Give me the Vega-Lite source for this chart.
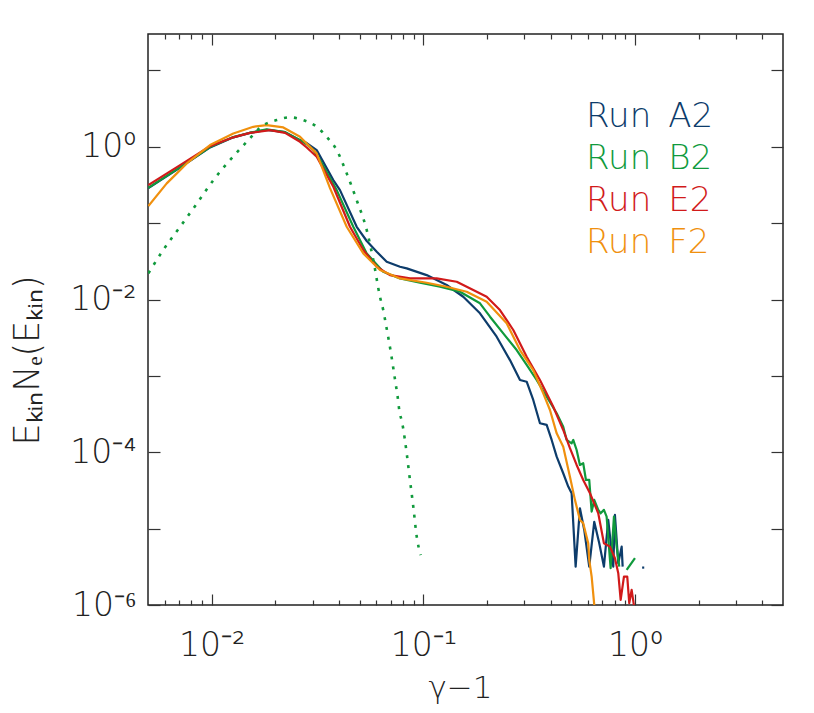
{
  "$schema": "https://vega.github.io/schema/vega-lite/v6.json",
  "width": 635,
  "height": 571,
  "autosize": {"type": "none"},
  "padding": {"left": 148, "top": 34, "right": 31, "bottom": 108},
  "background": "white",
  "config": {
    "view": {"stroke": "#222", "strokeWidth": 1.5},
    "font": "DejaVu Sans",
    "axis": {"domain": false, "grid": false, "tickColor": "#333", "tickWidth": 1.2, "labelFont": "DejaVu Sans", "labelColor": "#222", "labelFontWeight": 200, "titleFont": "DejaVu Sans", "titleColor": "#222", "titleFontWeight": 200, "labelOverlap": false, "labelFlush": false}
  },
  "datasets": {
    "runs": [
      {"run": "Run\u2002A2", "seg": "A2a", "x": 0.00502, "y": 0.288},
      {"run": "Run\u2002A2", "seg": "A2a", "x": 0.00709, "y": 0.534},
      {"run": "Run\u2002A2", "seg": "A2a", "x": 0.00982, "y": 0.982},
      {"run": "Run\u2002A2", "seg": "A2a", "x": 0.01265, "y": 1.33},
      {"run": "Run\u2002A2", "seg": "A2a", "x": 0.01517, "y": 1.52},
      {"run": "Run\u2002A2", "seg": "A2a", "x": 0.01819, "y": 1.669},
      {"run": "Run\u2002A2", "seg": "A2a", "x": 0.0222, "y": 1.557},
      {"run": "Run\u2002A2", "seg": "A2a", "x": 0.02613, "y": 1.224},
      {"run": "Run\u2002A2", "seg": "A2a", "x": 0.02811, "y": 1.12},
      {"run": "Run\u2002A2", "seg": "A2a", "x": 0.03133, "y": 0.905},
      {"run": "Run\u2002A2", "seg": "A2a", "x": 0.03754, "y": 0.3665},
      {"run": "Run\u2002A2", "seg": "A2a", "x": 0.04036, "y": 0.2711},
      {"run": "Run\u2002A2", "seg": "A2a", "x": 0.04841, "y": 0.0897},
      {"run": "Run\u2002A2", "seg": "A2a", "x": 0.054, "y": 0.0584},
      {"run": "Run\u2002A2", "seg": "A2a", "x": 0.0602, "y": 0.0422},
      {"run": "Run\u2002A2", "seg": "A2a", "x": 0.06708, "y": 0.0313},
      {"run": "Run\u2002A2", "seg": "A2a", "x": 0.07752, "y": 0.0269},
      {"run": "Run\u2002A2", "seg": "A2a", "x": 0.08341, "y": 0.0256},
      {"run": "Run\u2002A2", "seg": "A2a", "x": 0.1036, "y": 0.0209},
      {"run": "Run\u2002A2", "seg": "A2a", "x": 0.1288, "y": 0.0155},
      {"run": "Run\u2002A2", "seg": "A2a", "x": 0.1543, "y": 0.01088},
      {"run": "Run\u2002A2", "seg": "A2a", "x": 0.1851, "y": 0.0066},
      {"run": "Run\u2002A2", "seg": "A2a", "x": 0.2219, "y": 0.00326},
      {"run": "Run\u2002A2", "seg": "A2a", "x": 0.2565, "y": 0.00161},
      {"run": "Run\u2002A2", "seg": "A2a", "x": 0.286, "y": 0.000884},
      {"run": "Run\u2002A2", "seg": "A2a", "x": 0.3076, "y": 0.000839},
      {"run": "Run\u2002A2", "seg": "A2a", "x": 0.3304, "y": 0.000484},
      {"run": "Run\u2002A2", "seg": "A2a", "x": 0.3554, "y": 0.00024},
      {"run": "Run\u2002A2", "seg": "A2a", "x": 0.3823, "y": 0.000228},
      {"run": "Run\u2002A2", "seg": "A2a", "x": 0.4037, "y": 0.000145},
      {"run": "Run\u2002A2", "seg": "A2a", "x": 0.4263, "y": 0.0000876},
      {"run": "Run\u2002A2", "seg": "A2a", "x": 0.4578, "y": 0.0000531},
      {"run": "Run\u2002A2", "seg": "A2a", "x": 0.4835, "y": 0.0000355},
      {"run": "Run\u2002A2", "seg": "A2a", "x": 0.5016, "y": 0.0000291},
      {"run": "Run\u2002A2", "seg": "A2a", "x": 0.524, "y": 0.00000318},
      {"run": "Run\u2002A2", "seg": "A2a", "x": 0.549, "y": 0.0000185},
      {"run": "Run\u2002A2", "seg": "A2a", "x": 0.5754, "y": 0.00000962},
      {"run": "Run\u2002A2", "seg": "A2a", "x": 0.6075, "y": 0.00000318},
      {"run": "Run\u2002A2", "seg": "A2a", "x": 0.6415, "y": 0.0000123},
      {"run": "Run\u2002A2", "seg": "A2a", "x": 0.6774, "y": 0.00000644},
      {"run": "Run\u2002A2", "seg": "A2a", "x": 0.7128, "y": 0.00000318},
      {"run": "Run\u2002A2", "seg": "A2a", "x": 0.747, "y": 0.000013},
      {"run": "Run\u2002A2", "seg": "A2a", "x": 0.7889, "y": 0.00000318},
      {"run": "Run\u2002A2", "seg": "A2a", "x": 0.8035, "y": 0.0000151},
      {"run": "Run\u2002A2", "seg": "A2a", "x": 0.8331, "y": 0.00000353},
      {"run": "Run\u2002A2", "seg": "A2a", "x": 0.8644, "y": 0.00000581},
      {"run": "Run\u2002A2", "seg": "A2a", "x": 0.8738, "y": 0.00000318},
      {"run": "Run\u2002A2", "seg": "A2b", "x": 1.08, "y": 0.00000309},
      {"run": "Run\u2002A2", "seg": "A2b", "x": 1.105, "y": 0.00000309},

      {"run": "Run\u2002B2", "seg": "B2a", "x": 0.00502, "y": 0.2906},
      {"run": "Run\u2002B2", "seg": "B2a", "x": 0.00709, "y": 0.542},
      {"run": "Run\u2002B2", "seg": "B2a", "x": 0.00982, "y": 0.991},
      {"run": "Run\u2002B2", "seg": "B2a", "x": 0.01265, "y": 1.34},
      {"run": "Run\u2002B2", "seg": "B2a", "x": 0.01517, "y": 1.53},
      {"run": "Run\u2002B2", "seg": "B2a", "x": 0.01819, "y": 1.69},
      {"run": "Run\u2002B2", "seg": "B2a", "x": 0.0222, "y": 1.557},
      {"run": "Run\u2002B2", "seg": "B2a", "x": 0.02613, "y": 1.224},
      {"run": "Run\u2002B2", "seg": "B2a", "x": 0.02811, "y": 1.08},
      {"run": "Run\u2002B2", "seg": "B2a", "x": 0.0302, "y": 0.905},
      {"run": "Run\u2002B2", "seg": "B2a", "x": 0.03248, "y": 0.67},
      {"run": "Run\u2002B2", "seg": "B2a", "x": 0.03896, "y": 0.2711},
      {"run": "Run\u2002B2", "seg": "B2a", "x": 0.04665, "y": 0.0897},
      {"run": "Run\u2002B2", "seg": "B2a", "x": 0.054, "y": 0.0402},
      {"run": "Run\u2002B2", "seg": "B2a", "x": 0.0646, "y": 0.0231},
      {"run": "Run\u2002B2", "seg": "B2a", "x": 0.07752, "y": 0.0189},
      {"run": "Run\u2002B2", "seg": "B2a", "x": 0.09636, "y": 0.0166},
      {"run": "Run\u2002B2", "seg": "B2a", "x": 0.1198, "y": 0.0147},
      {"run": "Run\u2002B2", "seg": "B2a", "x": 0.1489, "y": 0.01265},
      {"run": "Run\u2002B2", "seg": "B2a", "x": 0.1851, "y": 0.00892},
      {"run": "Run\u2002B2", "seg": "B2a", "x": 0.2064, "y": 0.00596},
      {"run": "Run\u2002B2", "seg": "B2a", "x": 0.2384, "y": 0.00361},
      {"run": "Run\u2002B2", "seg": "B2a", "x": 0.2759, "y": 0.00218},
      {"run": "Run\u2002B2", "seg": "B2a", "x": 0.3076, "y": 0.00139},
      {"run": "Run\u2002B2", "seg": "B2a", "x": 0.3428, "y": 0.000884},
      {"run": "Run\u2002B2", "seg": "B2a", "x": 0.3823, "y": 0.000534},
      {"run": "Run\u2002B2", "seg": "B2a", "x": 0.4263, "y": 0.000324},
      {"run": "Run\u2002B2", "seg": "B2a", "x": 0.4578, "y": 0.000216},
      {"run": "Run\u2002B2", "seg": "B2a", "x": 0.4751, "y": 0.000145},
      {"run": "Run\u2002B2", "seg": "B2a", "x": 0.5016, "y": 0.000131},
      {"run": "Run\u2002B2", "seg": "B2a", "x": 0.5105, "y": 0.000145},
      {"run": "Run\u2002B2", "seg": "B2a", "x": 0.5297, "y": 0.000107},
      {"run": "Run\u2002B2", "seg": "B2a", "x": 0.549, "y": 0.0000682},
      {"run": "Run\u2002B2", "seg": "B2a", "x": 0.569, "y": 0.0000718},
      {"run": "Run\u2002B2", "seg": "B2a", "x": 0.5861, "y": 0.0000434},
      {"run": "Run\u2002B2", "seg": "B2a", "x": 0.6075, "y": 0.0000434},
      {"run": "Run\u2002B2", "seg": "B2a", "x": 0.6237, "y": 0.0000167},
      {"run": "Run\u2002B2", "seg": "B2a", "x": 0.6415, "y": 0.0000238},
      {"run": "Run\u2002B2", "seg": "B2a", "x": 0.6701, "y": 0.0000176},
      {"run": "Run\u2002B2", "seg": "B2a", "x": 0.6877, "y": 0.0000159},
      {"run": "Run\u2002B2", "seg": "B2a", "x": 0.7128, "y": 0.0000176},
      {"run": "Run\u2002B2", "seg": "B2a", "x": 0.734, "y": 0.0000144},
      {"run": "Run\u2002B2", "seg": "B2a", "x": 0.7667, "y": 0.00000303},
      {"run": "Run\u2002B2", "seg": "B2a", "x": 0.7949, "y": 0.0000144},
      {"run": "Run\u2002B2", "seg": "B2a", "x": 0.8186, "y": 0.00000581},
      {"run": "Run\u2002B2", "seg": "B2a", "x": 0.8421, "y": 0.00000318},
      {"run": "Run\u2002B2", "seg": "B2b", "x": 0.9127, "y": 0.00000288},
      {"run": "Run\u2002B2", "seg": "B2b", "x": 0.9989, "y": 0.0000041},

      {"run": "Run\u2002E2", "seg": "E2a", "x": 0.00502, "y": 0.315},
      {"run": "Run\u2002E2", "seg": "E2a", "x": 0.00709, "y": 0.576},
      {"run": "Run\u2002E2", "seg": "E2a", "x": 0.00982, "y": 1.021},
      {"run": "Run\u2002E2", "seg": "E2a", "x": 0.01265, "y": 1.33},
      {"run": "Run\u2002E2", "seg": "E2a", "x": 0.01517, "y": 1.52},
      {"run": "Run\u2002E2", "seg": "E2a", "x": 0.01886, "y": 1.654},
      {"run": "Run\u2002E2", "seg": "E2a", "x": 0.0222, "y": 1.52},
      {"run": "Run\u2002E2", "seg": "E2a", "x": 0.02613, "y": 1.163},
      {"run": "Run\u2002E2", "seg": "E2a", "x": 0.02811, "y": 0.98},
      {"run": "Run\u2002E2", "seg": "E2a", "x": 0.03133, "y": 0.74},
      {"run": "Run\u2002E2", "seg": "E2a", "x": 0.03754, "y": 0.2996},
      {"run": "Run\u2002E2", "seg": "E2a", "x": 0.045, "y": 0.0897},
      {"run": "Run\u2002E2", "seg": "E2a", "x": 0.05201, "y": 0.0445},
      {"run": "Run\u2002E2", "seg": "E2a", "x": 0.0602, "y": 0.0269},
      {"run": "Run\u2002E2", "seg": "E2a", "x": 0.06953, "y": 0.0209},
      {"run": "Run\u2002E2", "seg": "E2a", "x": 0.08645, "y": 0.0189},
      {"run": "Run\u2002E2", "seg": "E2a", "x": 0.1155, "y": 0.0189},
      {"run": "Run\u2002E2", "seg": "E2a", "x": 0.1437, "y": 0.0171},
      {"run": "Run\u2002E2", "seg": "E2a", "x": 0.172, "y": 0.0133},
      {"run": "Run\u2002E2", "seg": "E2a", "x": 0.1991, "y": 0.01088},
      {"run": "Run\u2002E2", "seg": "E2a", "x": 0.23, "y": 0.00729},
      {"run": "Run\u2002E2", "seg": "E2a", "x": 0.2659, "y": 0.00399},
      {"run": "Run\u2002E2", "seg": "E2a", "x": 0.3076, "y": 0.00178},
      {"run": "Run\u2002E2", "seg": "E2a", "x": 0.3554, "y": 0.000884},
      {"run": "Run\u2002E2", "seg": "E2a", "x": 0.4108, "y": 0.000395},
      {"run": "Run\u2002E2", "seg": "E2a", "x": 0.4578, "y": 0.000196},
      {"run": "Run\u2002E2", "seg": "E2a", "x": 0.4925, "y": 0.000113},
      {"run": "Run\u2002E2", "seg": "E2a", "x": 0.5297, "y": 0.0000682},
      {"run": "Run\u2002E2", "seg": "E2a", "x": 0.569, "y": 0.0000434},
      {"run": "Run\u2002E2", "seg": "E2a", "x": 0.6124, "y": 0.0000291},
      {"run": "Run\u2002E2", "seg": "E2a", "x": 0.6701, "y": 0.0000159},
      {"run": "Run\u2002E2", "seg": "E2a", "x": 0.7128, "y": 0.00000644},
      {"run": "Run\u2002E2", "seg": "E2a", "x": 0.7609, "y": 0.00000581},
      {"run": "Run\u2002E2", "seg": "E2a", "x": 0.8035, "y": 0.0000041},
      {"run": "Run\u2002E2", "seg": "E2a", "x": 0.8331, "y": 0.00000261},
      {"run": "Run\u2002E2", "seg": "E2a", "x": 0.8551, "y": 0.00000117},
      {"run": "Run\u2002E2", "seg": "E2a", "x": 0.8863, "y": 0.00000235},
      {"run": "Run\u2002E2", "seg": "E2a", "x": 0.9186, "y": 0.00000235},
      {"run": "Run\u2002E2", "seg": "E2a", "x": 0.9389, "y": 0.00000106},
      {"run": "Run\u2002E2", "seg": "E2a", "x": 0.9636, "y": 0.00000158},
      {"run": "Run\u2002E2", "seg": "E2a", "x": 0.9989, "y": 0.0000008},

      {"run": "Run\u2002F2", "seg": "F2a", "x": 0.00502, "y": 0.1674},
      {"run": "Run\u2002F2", "seg": "F2a", "x": 0.00613, "y": 0.332},
      {"run": "Run\u2002F2", "seg": "F2a", "x": 0.00684, "y": 0.449},
      {"run": "Run\u2002F2", "seg": "F2a", "x": 0.00762, "y": 0.606},
      {"run": "Run\u2002F2", "seg": "F2a", "x": 0.00982, "y": 1.053},
      {"run": "Run\u2002F2", "seg": "F2a", "x": 0.01265, "y": 1.497},
      {"run": "Run\u2002F2", "seg": "F2a", "x": 0.01572, "y": 1.827},
      {"run": "Run\u2002F2", "seg": "F2a", "x": 0.01819, "y": 1.923},
      {"run": "Run\u2002F2", "seg": "F2a", "x": 0.02179, "y": 1.794},
      {"run": "Run\u2002F2", "seg": "F2a", "x": 0.02613, "y": 1.352},
      {"run": "Run\u2002F2", "seg": "F2a", "x": 0.02811, "y": 1.1},
      {"run": "Run\u2002F2", "seg": "F2a", "x": 0.03133, "y": 0.82},
      {"run": "Run\u2002F2", "seg": "F2a", "x": 0.03621, "y": 0.288},
      {"run": "Run\u2002F2", "seg": "F2a", "x": 0.04342, "y": 0.0897},
      {"run": "Run\u2002F2", "seg": "F2a", "x": 0.05201, "y": 0.0402},
      {"run": "Run\u2002F2", "seg": "F2a", "x": 0.06237, "y": 0.0243},
      {"run": "Run\u2002F2", "seg": "F2a", "x": 0.07752, "y": 0.0189},
      {"run": "Run\u2002F2", "seg": "F2a", "x": 0.1036, "y": 0.0166},
      {"run": "Run\u2002F2", "seg": "F2a", "x": 0.1288, "y": 0.0147},
      {"run": "Run\u2002F2", "seg": "F2a", "x": 0.1601, "y": 0.01265},
      {"run": "Run\u2002F2", "seg": "F2a", "x": 0.1991, "y": 0.00936},
      {"run": "Run\u2002F2", "seg": "F2a", "x": 0.2474, "y": 0.00488},
      {"run": "Run\u2002F2", "seg": "F2a", "x": 0.286, "y": 0.00218},
      {"run": "Run\u2002F2", "seg": "F2a", "x": 0.3304, "y": 0.00119},
      {"run": "Run\u2002F2", "seg": "F2a", "x": 0.3684, "y": 0.000592},
      {"run": "Run\u2002F2", "seg": "F2a", "x": 0.3963, "y": 0.000358},
      {"run": "Run\u2002F2", "seg": "F2a", "x": 0.4263, "y": 0.000177},
      {"run": "Run\u2002F2", "seg": "F2a", "x": 0.4578, "y": 0.000118},
      {"run": "Run\u2002F2", "seg": "F2a", "x": 0.4925, "y": 0.0000479},
      {"run": "Run\u2002F2", "seg": "F2a", "x": 0.52, "y": 0.0000238},
      {"run": "Run\u2002F2", "seg": "F2a", "x": 0.549, "y": 0.000013},
      {"run": "Run\u2002F2", "seg": "F2a", "x": 0.569, "y": 0.0000118},
      {"run": "Run\u2002F2", "seg": "F2a", "x": 0.6009, "y": 0.00000644},
      {"run": "Run\u2002F2", "seg": "F2a", "x": 0.6075, "y": 0.00000389},
      {"run": "Run\u2002F2", "seg": "F2a", "x": 0.6237, "y": 0.00000235},
      {"run": "Run\u2002F2", "seg": "F2a", "x": 0.6465, "y": 0.0000008}
    ],
    "maxw": [
      {"x": 0.00502, "y": 0.022},
      {"x": 0.0059, "y": 0.0445},
      {"x": 0.00709, "y": 0.0897},
      {"x": 0.0085, "y": 0.18},
      {"x": 0.01018, "y": 0.366},
      {"x": 0.0122, "y": 0.67},
      {"x": 0.01463, "y": 1.16},
      {"x": 0.01753, "y": 1.92},
      {"x": 0.0203, "y": 2.24},
      {"x": 0.02344, "y": 2.43},
      {"x": 0.02708, "y": 2.24},
      {"x": 0.03133, "y": 1.83},
      {"x": 0.0349, "y": 1.35},
      {"x": 0.03896, "y": 0.905},
      {"x": 0.04342, "y": 0.449},
      {"x": 0.04841, "y": 0.2},
      {"x": 0.054, "y": 0.081},
      {"x": 0.058, "y": 0.0329},
      {"x": 0.06237, "y": 0.01088},
      {"x": 0.0646, "y": 0.0073},
      {"x": 0.0666, "y": 0.00464},
      {"x": 0.0686, "y": 0.00295},
      {"x": 0.0703, "y": 0.00198},
      {"x": 0.0721, "y": 0.00126},
      {"x": 0.0737, "y": 0.00084},
      {"x": 0.0756, "y": 0.00053},
      {"x": 0.0769, "y": 0.000358},
      {"x": 0.0795, "y": 0.00024},
      {"x": 0.0816, "y": 0.000152},
      {"x": 0.0834, "y": 0.000097},
      {"x": 0.0864, "y": 0.0000434},
      {"x": 0.0896, "y": 0.0000194},
      {"x": 0.093, "y": 0.0000079},
      {"x": 0.0971, "y": 0.0000045}
    ]
  },
  "layer": [
    {
      "data": {"name": "runs"},
      "mark": {"type": "line", "strokeWidth": 2.2, "clip": true, "strokeJoin": "round"},
      "encoding": {
        "x": {"field": "x", "type": "quantitative",
          "scale": {"type": "log", "domain": [0.005, 5], "nice": false},
          "axis": {"orient": "bottom", "values": [0.01, 0.1, 1], "tickSize": -11, "labelFontSize": 33, "labelPadding": 35,
            "labelExpr": "round(log(datum.value)/LN10) == -2 ? '10⁻²' : round(log(datum.value)/LN10) == -1 ? '10⁻¹' : '10⁰'",
            "title": "γ−1", "titleFontSize": 31, "titleX": 312, "titleY": 92, "titleBaseline": "alphabetic", "titleAlign": "center"}},
        "y": {"field": "y", "type": "quantitative",
          "scale": {"type": "log", "domain": [0.000001, 30], "nice": false},
          "axis": {"orient": "left", "values": [0.000001, 0.00001, 0.0001, 0.001, 0.01, 0.1, 1, 10], "tickSize": -12, "labelFontSize": 33, "labelPadding": 24, "labelBaseline": "middle",
            "labelExpr": "round(log(datum.value)/LN10) == 0 ? '10⁰' : round(log(datum.value)/LN10) == -2 ? '10⁻²' : round(log(datum.value)/LN10) == -4 ? '10⁻⁴' : round(log(datum.value)/LN10) == -6 ? '10⁻⁶' : ''",
            "title": "EₖᵢₙNₑ(Eₖᵢₙ)", "titleFontSize": 35, "titleX": -110, "titleY": 326, "titleAngle": -90, "titleBaseline": "alphabetic", "titleAlign": "center"}},
        "color": {"field": "run", "type": "nominal",
          "scale": {"domain": ["Run\u2002A2", "Run\u2002B2", "Run\u2002E2", "Run\u2002F2"], "range": ["#0d3c6b", "#109a3c", "#d11a1a", "#f0900e"]},
          "legend": {"orient": "none", "legendX": 404, "legendY": 66, "title": null, "symbolSize": 0, "symbolStrokeWidth": 0, "symbolOpacity": 0,
            "labelFontSize": 34, "labelFont": "DejaVu Sans", "labelFontWeight": 200, "labelOffset": 0, "rowPadding": 8, "padding": 0, "labelLimit": 400,
            "encode": {"labels": {"update": {"fill": {"scale": "color", "field": "value"}}}}}},
        "detail": {"field": "seg"}
      }
    },
    {
      "data": {"name": "maxw"},
      "mark": {"type": "line", "strokeWidth": 2.6, "color": "#109a3c", "strokeDash": [3, 7], "clip": true, "interpolate": "monotone"},
      "encoding": {
        "x": {"field": "x", "type": "quantitative",
          "axis": {"orient": "bottom", "values": [0.006, 0.007, 0.008, 0.009, 0.02, 0.03, 0.04, 0.05, 0.06, 0.07, 0.08, 0.09, 0.2, 0.3, 0.4, 0.5, 0.6, 0.7, 0.8, 0.9, 2, 3, 4], "tickSize": -5, "labels": false, "title": null}},
        "y": {"field": "y", "type": "quantitative",
          "axis": {"orient": "right", "values": [0.000001, 0.00001, 0.0001, 0.001, 0.01, 0.1, 1, 10], "tickSize": -12, "labels": false, "title": null}}
      }
    },
    {
      "data": {"name": "maxw"},
      "mark": {"type": "line", "opacity": 0},
      "encoding": {
        "x": {"field": "x", "type": "quantitative",
          "axis": {"orient": "top", "values": [0.01, 0.1, 1], "tickSize": -11, "labels": false, "title": null}},
        "y": {"field": "y", "type": "quantitative", "axis": null}
      }
    },
    {
      "data": {"name": "maxw"},
      "mark": {"type": "line", "opacity": 0},
      "encoding": {
        "x": {"field": "x", "type": "quantitative",
          "axis": {"orient": "top", "values": [0.006, 0.007, 0.008, 0.009, 0.02, 0.03, 0.04, 0.05, 0.06, 0.07, 0.08, 0.09, 0.2, 0.3, 0.4, 0.5, 0.6, 0.7, 0.8, 0.9, 2, 3, 4], "tickSize": -5, "labels": false, "title": null}},
        "y": {"field": "y", "type": "quantitative", "axis": null}
      }
    }
  ],
  "resolve": {"axis": {"x": "independent", "y": "independent"}}
}
